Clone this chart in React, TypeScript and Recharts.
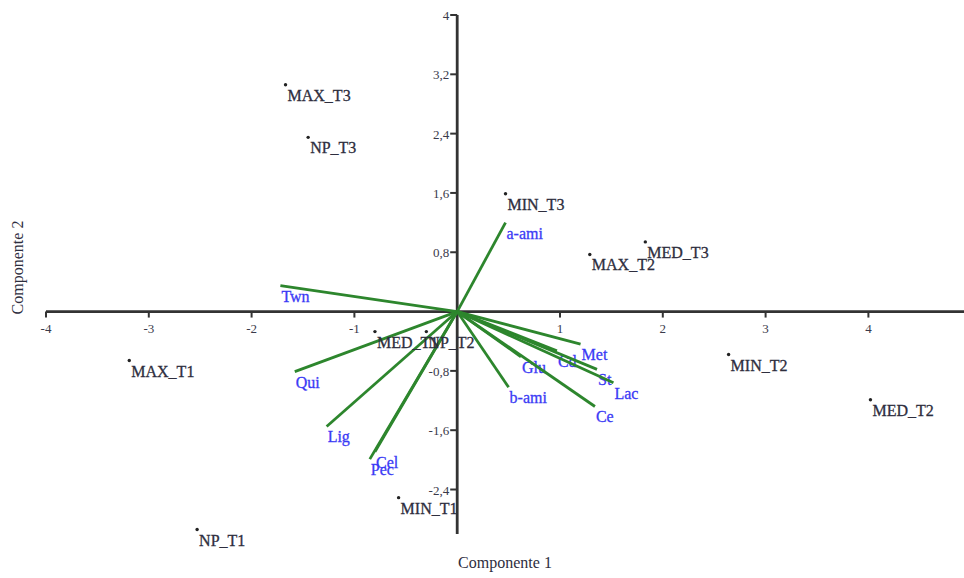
import React from 'react';
import {
  ScatterChart,
  Scatter,
  XAxis,
  YAxis,
  ReferenceLine,
  ReferenceDot,
} from 'recharts';

// scores (component 1, component 2)
const obsNames = ['MAX_T3', 'NP_T3', 'MIN_T3', 'MAX_T2', 'MED_T3', 'MIN_T2', 'MED_T2', 'MAX_T1', 'NP_T1', 'MIN_T1', 'MED_T1', 'NP_T2'];
const obsC1 = [-1.67, -1.45, 0.47, 1.29, 1.83, 2.64, 4.02, -3.19, -2.53, -0.57, -0.8, -0.3];
const obsC2 = [3.06, 2.35, 1.59, 0.77, 0.94, -0.58, -1.19, -0.66, -2.94, -2.51, -0.27, -0.27];

// loadings (arrow tips)
const varNames = ['a-ami', 'Twn', 'Qui', 'Lig', 'Cel', 'Pec', 'b-ami', 'Glu', 'Cd', 'Met', 'St', 'Lac', 'Ce'];
const varC1 = [0.47, -1.72, -1.58, -1.27, -0.8, -0.85, 0.5, 0.62, 0.97, 1.2, 1.36, 1.52, 1.34];
const varC2 = [1.2, 0.35, -0.81, -1.55, -1.89, -1.99, -1.02, -0.61, -0.53, -0.44, -0.78, -0.96, -1.28];

const xTicks = [-4, -3, -2, -1, 1, 2, 3, 4];
const yTicks = [4, 3.2, 2.4, 1.6, 0.8, -0.8, -1.6, -2.4];

const FONT = '"Liberation Serif", "DejaVu Serif", serif';
const AXIS = '#333';
const GREEN = '#2d862d';
const BLUE = '#3a3af5';
const INK = '#2e2e3e';

const observations = obsNames.map((name, i) => ({ name, x: obsC1[i], y: obsC2[i] }));
const loadings = varNames.map((name, i) => [
  { x: 0, y: 0, name: '' },
  { x: varC1[i], y: varC2[i], name },
]);

const fmt = (v: number) => String(v).replace('.', ',');

const ObsShape = (props: any) => {
  const { cx, cy, payload } = props;
  return (
    <g>
      <circle cx={cx} cy={cy} r={1.7} fill="#222" />
      <text x={cx + 2} y={cy + 16} fontSize={16} fontFamily={FONT} fill={INK} stroke={INK} strokeWidth={0.3}>
        {payload.name}
      </text>
    </g>
  );
};

const VarShape = (props: any) => {
  const { cx, cy, payload } = props;
  if (!payload.name) return <g />;
  return (
    <text x={cx + 1} y={cy + 16} fontSize={16} fontFamily={FONT} fill={BLUE} stroke={BLUE} strokeWidth={0.3}>
      {payload.name}
    </text>
  );
};

const App: React.FC = () => {
  return (
    <div style={{ position: 'absolute', left: 0, top: 0, background: '#fff' }}>
      <ScatterChart width={964} height={578} margin={{ top: 15, right: 0, bottom: 0, left: 0 }}>
        <XAxis
          type="number"
          dataKey="x"
          domain={[-4, 4.93]}
          ticks={xTicks}
          height={44}
          axisLine={false}
          tickLine={false}
          tick={false}
          label={{
            value: 'Componente 1',
            position: 'insideBottom',
            offset: 10,
            fontSize: 16,
            fontFamily: FONT,
            fill: INK,
          }}
        />
        <YAxis
          type="number"
          dataKey="y"
          domain={[-3, 4]}
          ticks={yTicks}
          width={46}
          axisLine={false}
          tickLine={false}
          tick={false}
          label={{
            content: ({ viewBox }: any) => {
              const x = viewBox.x + 17;
              const y = viewBox.y + viewBox.height / 2 - 7;
              return (
                <text
                  x={x}
                  y={y}
                  transform={`rotate(-90, ${x}, ${y})`}
                  textAnchor="middle"
                  dominantBaseline="central"
                  fontSize={16}
                  fontFamily={FONT}
                  fill={INK}
                >
                  Componente 2
                </text>
              );
            },
          }}
        />
        <ReferenceLine y={0} stroke={AXIS} strokeWidth={2.8} />
        <ReferenceLine x={0} stroke={AXIS} strokeWidth={2.8} />
        {xTicks.map((v) => (
          <ReferenceDot
            key={`xt${v}`}
            x={v}
            y={0}
            r={0}
            shape={(p: any) => (
              <g>
                <line x1={p.cx} y1={p.cy} x2={p.cx} y2={p.cy + 6} stroke={AXIS} strokeWidth={2} />
                <text x={p.cx} y={p.cy + 21} textAnchor="middle" fontSize={13} fontFamily={FONT} fill="#3a3a4a">
                  {fmt(v)}
                </text>
              </g>
            )}
          />
        ))}
        {yTicks.map((v) => (
          <ReferenceDot
            key={`yt${v}`}
            x={0}
            y={v}
            r={0}
            shape={(p: any) => (
              <g>
                <line x1={p.cx - 7} y1={p.cy} x2={p.cx} y2={p.cy} stroke={AXIS} strokeWidth={2} />
                <text x={p.cx - 8} y={p.cy + 5} textAnchor="end" fontSize={13} fontFamily={FONT} fill="#3a3a4a">
                  {fmt(v)}
                </text>
              </g>
            )}
          />
        ))}
        {loadings.map((d, i) => (
          <Scatter
            key={varNames[i]}
            data={d}
            line={{ stroke: GREEN, strokeWidth: 2.8 }}
            shape={VarShape}
            isAnimationActive={false}
          />
        ))}
        <Scatter data={observations} shape={ObsShape} isAnimationActive={false} />
      </ScatterChart>
    </div>
  );
};

export default App;
